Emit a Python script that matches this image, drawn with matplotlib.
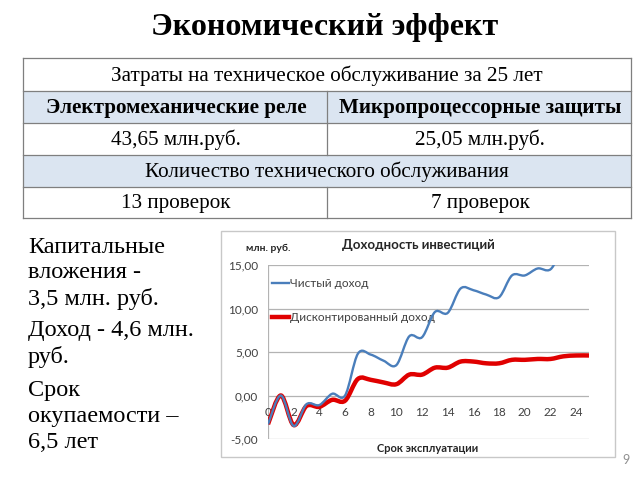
import matplotlib
matplotlib.use("Agg")
import matplotlib.pyplot as plt
from matplotlib.path import Path
from matplotlib.patches import PathPatch, Rectangle

# --- данные ---
years = list(range(0, 26))
net_income = [-3.3, 0.0, -3.5, -1.0, -1.1, 0.2, 0.0, 4.8, 4.7, 4.0, 3.5,
              6.8, 6.7, 9.6, 9.5, 12.3, 12.1, 11.6, 11.3, 13.8, 13.8,
              14.6, 14.5, 16.8, 16.6, 17.4]
disc_income = [-3.3, 0.0, -3.4, -1.2, -1.3, -0.5, -0.6, 1.9, 1.8, 1.5, 1.3,
               2.4, 2.4, 3.2, 3.2, 3.9, 3.9, 3.7, 3.7, 4.1, 4.1,
               4.2, 4.2, 4.5, 4.6, 4.6]
y_ticks = [-5, 0, 5, 10, 15]
x_ticks = list(range(0, 25, 2))

table_rows = [
    ["Затраты на техническое обслуживание за 25 лет"],
    ["Электромеханические реле", "Микропроцессорные защиты"],
    ["43,65 млн.руб.", "25,05 млн.руб."],
    ["Количество технического обслуживания"],
    ["13 проверок", "7 проверок"],
]
side_text = [
    ["Капитальные", "вложения -", "3,5 млн. руб."],
    ["Доход - 4,6 млн.", "руб."],
    ["Срок", "окупаемости –", "6,5 лет"],
]

W, H = 640, 480
SERIF = "Liberation Serif"
SANS = "Lato"


def px(x, y):
    # пиксели экрана -> координаты фигуры
    return x / W, 1 - y / H


def smooth_path(xs, ys):
    # сглаженная линия как в Excel (кривые Безье через точки)
    verts = [(xs[0], ys[0])]
    codes = [Path.MOVETO]
    n = len(xs)
    for i in range(n - 1):
        x0, y0 = xs[max(i - 1, 0)], ys[max(i - 1, 0)]
        x1, y1 = xs[i], ys[i]
        x2, y2 = xs[i + 1], ys[i + 1]
        x3, y3 = xs[min(i + 2, n - 1)], ys[min(i + 2, n - 1)]
        verts += [(x1 + (x2 - x0) / 6, y1 + (y2 - y0) / 6),
                  (x2 - (x3 - x1) / 6, y2 - (y3 - y1) / 6),
                  (x2, y2)]
        codes += [Path.CURVE4] * 3
    return Path(verts, codes)


fig = plt.figure(figsize=(6.4, 4.8), dpi=100)
fig.patch.set_facecolor("white")

fig.text(*px(325, 27), "Экономический эффект", ha="center", va="center",
         family=SERIF, fontsize=23, fontweight="bold", color="black")

# --- таблица ---
tx0, tx1, tmid = 23, 631, 327
row_y = [58, 91, 123, 155, 187, 218]
blue_fill = "#dbe5f1"
for r, cells in enumerate(table_rows):
    ytop, ybot = row_y[r], row_y[r + 1]
    if r in (1, 3):
        fig.patches.append(Rectangle(px(tx0, ybot), (tx1 - tx0) / W, (ybot - ytop) / H,
                                     transform=fig.transFigure, facecolor=blue_fill,
                                     edgecolor="none", zorder=0))
    yc = (ytop + ybot) / 2 + 1
    weight = "bold" if r == 1 else "normal"
    if len(cells) == 1:
        fig.text(*px((tx0 + tx1) / 2, yc), cells[0], ha="center", va="center",
                 family=SERIF, fontsize=15.2, fontweight=weight)
    else:
        fig.text(*px((tx0 + tmid) / 2 + 1, yc), cells[0], ha="center", va="center",
                 family=SERIF, fontsize=15.2, fontweight=weight)
        fig.text(*px((tmid + tx1) / 2 + 1, yc), cells[1], ha="center", va="center",
                 family=SERIF, fontsize=15.2, fontweight=weight)
        fig.add_artist(plt.Line2D([tmid / W] * 2, [1 - ytop / H, 1 - ybot / H],
                                  transform=fig.transFigure, color="#7f7f7f", lw=0.9))
for y in row_y:
    fig.add_artist(plt.Line2D([tx0 / W, tx1 / W], [1 - y / H] * 2,
                              transform=fig.transFigure, color="#7f7f7f", lw=0.9))
for x in (tx0, tx1):
    fig.add_artist(plt.Line2D([x / W] * 2, [1 - row_y[0] / H, 1 - row_y[-1] / H],
                              transform=fig.transFigure, color="#7f7f7f", lw=0.9))

# --- текст слева ---
baselines = [[253, 278, 305], [336, 363], [396, 422, 448]]
for para, ys in zip(side_text, baselines):
    for line, y in zip(para, ys):
        fig.text(*px(28, y), line, ha="left", va="baseline", family=SERIF,
                 fontsize=17.5, color="black")

# --- диаграмма ---
fig.patches.append(Rectangle(px(221, 457), (615 - 221) / W, (457 - 231) / H,
                             transform=fig.transFigure, facecolor="white",
                             edgecolor="#c8c8c8", lw=1.0, zorder=0))

ax = fig.add_axes([268 / W, 1 - 439 / H, (589 - 268) / W, (439 - 265) / H])
ax.set_zorder(2)
ax.set_xlim(0, 25)
ax.set_ylim(-5, 15)
ax.set_facecolor("none")
for y in y_ticks:
    ax.axhline(y, color="#b3b3b3", lw=0.9, zorder=1)
ax.axvline(0, color="#b3b3b3", lw=0.9, zorder=1)
for s in ("top", "right", "left"):
    ax.spines[s].set_visible(False)
ax.spines["bottom"].set_position(("data", 0))
ax.spines["bottom"].set_color("none")
ax.set_yticks(y_ticks)
ax.set_yticklabels([f"{v:.2f}".replace(".", ",") for v in y_ticks])
ax.set_xticks(x_ticks)
ax.tick_params(length=0, labelsize=8.5, labelcolor="#404040")
ax.tick_params(axis="y", pad=7)
ax.tick_params(axis="x", pad=8)
for lab in ax.get_xticklabels() + ax.get_yticklabels():
    lab.set_family(SANS)

ax.add_patch(PathPatch(smooth_path(years, disc_income), facecolor="none",
                       edgecolor="#e00000", lw=3.2, zorder=3))
ax.add_patch(PathPatch(smooth_path(years, net_income), facecolor="none",
                       edgecolor="#4a7ebb", lw=1.7, zorder=4))

# легенда внутри поля
ax.plot([0.3, 1.6], [12.9, 12.9], color="#4a7ebb", lw=1.7)
ax.text(1.7, 12.9, "Чистый доход", va="center", ha="left", family=SANS,
        fontsize=8.5, color="#404040")
ax.plot([0.3, 1.6], [9.0, 9.0], color="#e00000", lw=3.2)
ax.text(1.7, 9.0, "Дисконтированный доход", va="center", ha="left", family=SANS,
        fontsize=8.5, color="#404040")

fig.text(*px(418, 245), "Доходность инвестиций", ha="center", va="center",
         family=SANS, fontsize=9.5, fontweight="bold", color="#262626")
fig.text(*px(268, 248), "млн. руб.", ha="center", va="center",
         family=SANS, fontsize=7.5, fontweight="bold", color="#262626")
fig.text(*px(428, 448), "Срок эксплуатации", ha="center", va="center",
         family=SANS, fontsize=8, fontweight="bold", color="#262626")

fig.text(*px(626, 460), "9", ha="center", va="center", family=SANS,
         fontsize=9, color="#909090")

plt.savefig("out.png", dpi=100)
